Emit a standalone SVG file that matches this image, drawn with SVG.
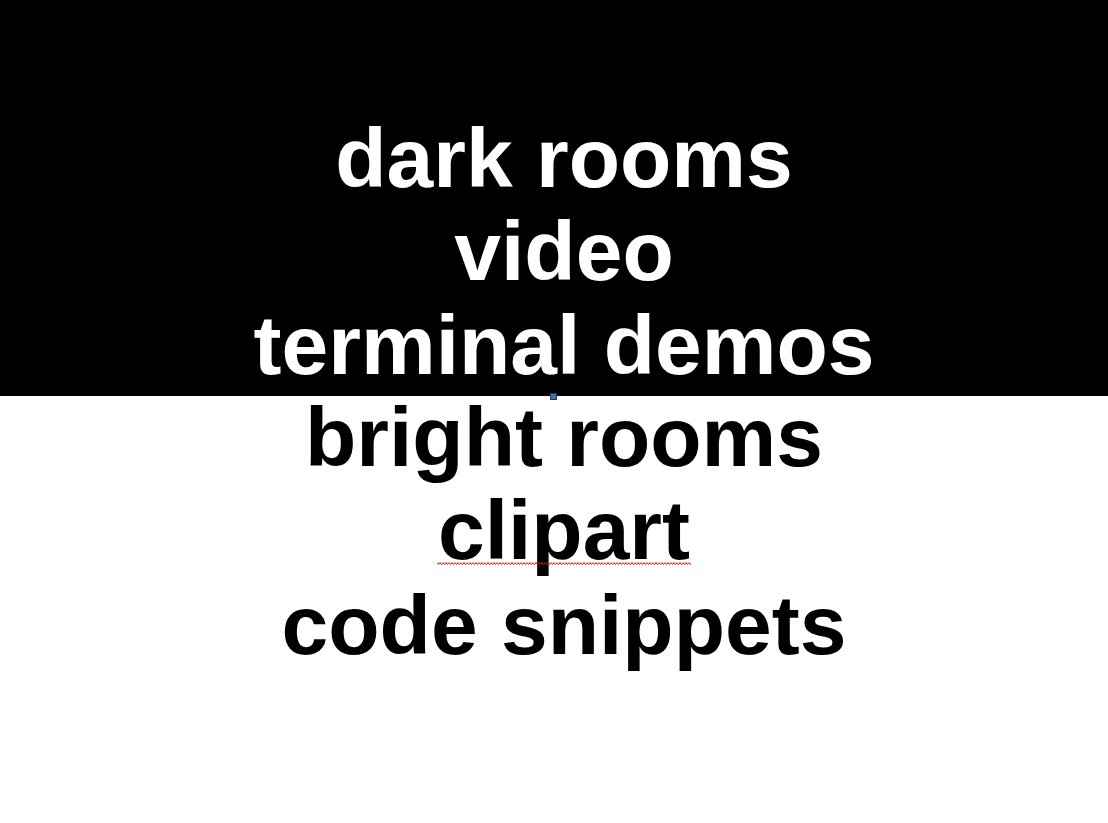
<svg xmlns="http://www.w3.org/2000/svg" width="1108" height="823" viewBox="0 0 1108 823">
<style>
.t{font-family:"Liberation Sans",Arial,sans-serif;font-weight:bold;font-size:84px;text-anchor:middle}
.w{fill:#fff}
.b{fill:#000}
</style>
<defs>
<pattern id="sq" x="437" y="561" width="6" height="5" patternUnits="userSpaceOnUse">
<path d="M0 1.5 L1.5 3.5 L3 1.5 L4.5 3.5 L6 1.5" fill="none" stroke="#f00" stroke-width="1"/>
</pattern>
</defs>
<rect x="0" y="0" width="1108" height="823" fill="#fff"/>
<rect x="0" y="0" width="1108" height="396" fill="#000"/>
<g id="dark">
<text class="t w" x="564" y="187">dark rooms</text>
<text class="t w" x="564" y="280">video</text>
<text class="t w" x="564" y="374">terminal demos</text>
</g>
<g id="bright">
<text class="t b" x="564" y="466">bright rooms</text>
<text class="t b" x="564" y="559">clipart</text>
<text class="t b" x="564" y="654">code snippets</text>
</g>
<rect x="437" y="561" width="254" height="5" fill="url(#sq)"/>
<rect x="550.5" y="393.5" width="6" height="6" fill="#4a6fa5" stroke="#1f3a66" stroke-width="1"/>
</svg>
